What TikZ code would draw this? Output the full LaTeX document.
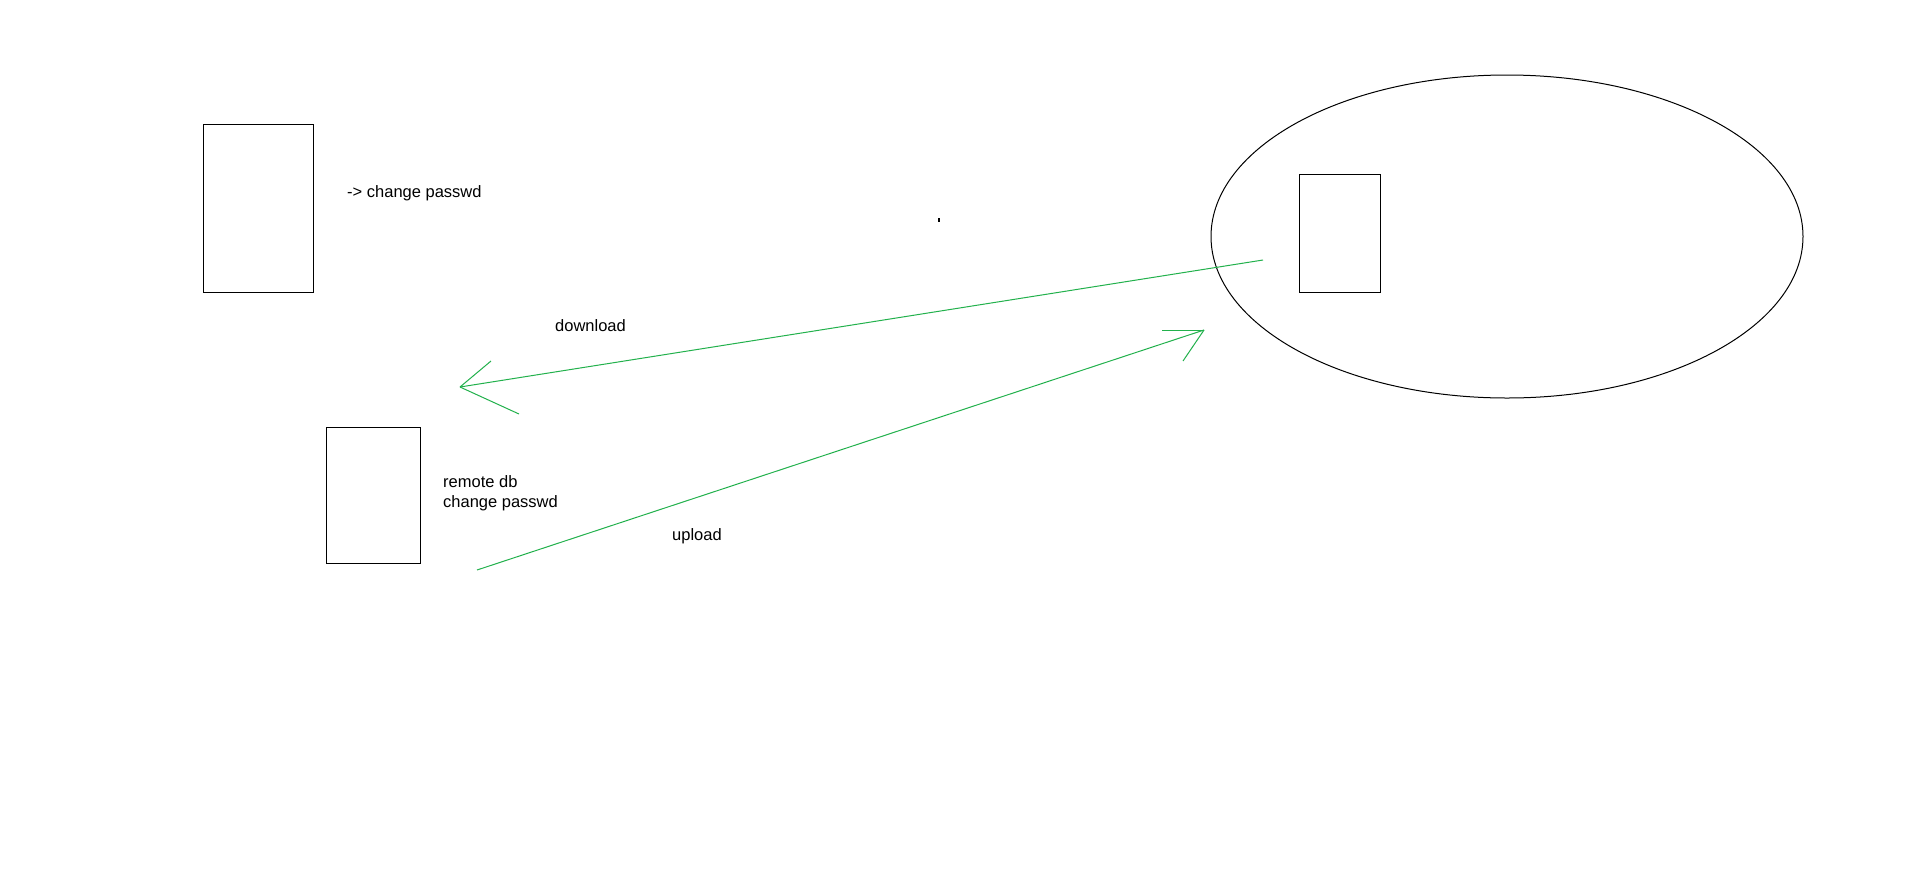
\documentclass[tikz,border=0pt]{standalone}
\usepackage{fontspec}
\setmainfont{Liberation Sans}
\usetikzlibrary{shapes.geometric}
\definecolor{paintgreen}{RGB}{34,177,76}
\tikzset{
  box/.style={draw=black, line width=1pt, inner sep=0pt, rectangle},
  lbl/.style={font=\fontsize{16.5}{20}\selectfont, inner sep=0pt, anchor=base west, align=left},
  conn/.style={draw=paintgreen, line width=1pt},
}
\begin{document}
\begin{tikzpicture}[x=1pt,y=-1pt]
\useasboundingbox (0,0) rectangle (1914,892);
\fill[white] (0,0) rectangle (1914,892);
% boxes
\node[box, minimum width=110pt, minimum height=168pt] (boxA) at (258,208) {};
\node[box, minimum width=94pt, minimum height=136pt] (boxB) at (373,495) {};
\node[draw, line width=1pt, ellipse, minimum width=592pt, minimum height=323pt, inner sep=0pt] (cloud) at (1507,236.5) {};
\node[box, minimum width=81pt, minimum height=118pt] (boxC) at (1339.5,233) {};
% texts
\node[lbl] (t1) at (347,197) {-> change passwd};
\node[lbl] (t2) at (443,507) {remote db\\change passwd};
\node[lbl] (t3) at (555,331) {download};
\node[lbl] (t4) at (672,540) {upload};
% tiny mark
\fill[black] (938,218) rectangle (940,222);
% download arrow
\coordinate (dstart) at (1263,260);
\coordinate (dtip) at (460,387);
\coordinate (db1) at (491,361);
\coordinate (db2) at (519,414);
\draw[conn] (dstart) -- (dtip);
\draw[conn] (dtip) -- (db1);
\draw[conn] (dtip) -- (db2);
% upload arrow
\coordinate (ustart) at (477,570);
\coordinate (utip) at (1204,330);
\coordinate (ub1) at (1162,330);
\coordinate (ub2) at (1183,361);
\draw[conn] (ustart) -- (utip);
\draw[conn] (utip) -- (ub1);
\draw[conn] (utip) -- (ub2);
\end{tikzpicture}
\end{document}
